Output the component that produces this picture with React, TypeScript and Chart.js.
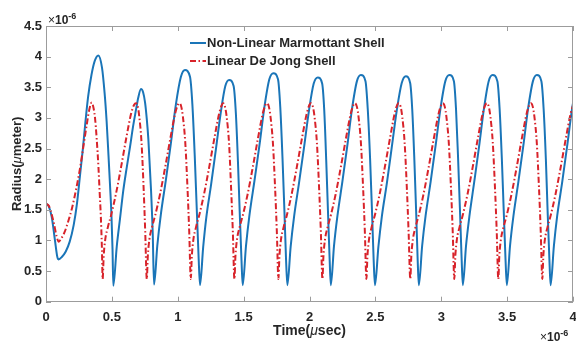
import React, { useEffect, useRef } from "react";
import { Chart, registerables } from "chart.js";

Chart.register(...registerables);

// Time axis in microseconds (x 1e-6 s), radius in micrometres (x 1e-6 m)
const blueTime = [
  0, 0.02, 0.043, 0.068, 0.085, 0.094, 0.12, 0.15, 0.18, 0.21, 0.235, 0.26, 0.28, 0.3, 0.32, 0.345, 0.37, 0.397,
  0.425, 0.445, 0.46, 0.474, 0.486, 0.497, 0.505, 0.511,
  0.537, 0.562, 0.587, 0.612, 0.638, 0.66, 0.683, 0.7, 0.721, 0.737, 0.752, 0.765, 0.777, 0.797, 0.81, 0.82,
  0.845, 0.872, 0.91, 0.948, 0.986, 1.024, 1.055, 1.093, 1.111, 1.129, 1.144, 1.159, 1.169,
  1.193, 1.217, 1.253, 1.289, 1.326, 1.361, 1.39, 1.424, 1.441, 1.457, 1.47, 1.484, 1.493,
  1.518, 1.544, 1.582, 1.62, 1.658, 1.695, 1.726, 1.761, 1.778, 1.795, 1.809, 1.822, 1.832,
  1.857, 1.883, 1.92, 1.958, 1.996, 2.032, 2.063, 2.096, 2.112, 2.127, 2.14, 2.153, 2.162,
  2.186, 2.212, 2.249, 2.286, 2.323, 2.36, 2.39, 2.425, 2.442, 2.46, 2.474, 2.487, 2.497,
  2.523, 2.549, 2.587, 2.625, 2.663, 2.7, 2.731, 2.764, 2.78, 2.796, 2.809, 2.821, 2.83,
  2.855, 2.881, 2.919, 2.956, 2.994, 3.031, 3.062, 3.096, 3.112, 3.128, 3.142, 3.155, 3.164,
  3.188, 3.214, 3.25, 3.287, 3.324, 3.36, 3.39, 3.426, 3.443, 3.46, 3.474, 3.488, 3.498,
  3.522, 3.548, 3.585, 3.622, 3.659, 3.696, 3.726, 3.76, 3.777, 3.794, 3.807, 3.821, 3.83,
  3.855, 3.88, 3.918, 3.955, 3.993, 4.0,
];
const blueRadius = [
  1.6, 1.56, 1.39, 1.0, 0.74, 0.69, 0.73, 0.82, 0.98, 1.25, 1.6, 2.1, 2.5, 2.95, 3.35, 3.7, 3.93, 4.02,
  3.82, 3.4, 2.95, 2.4, 1.9, 1.4, 0.85, 0.26,
  0.9, 1.36, 1.82, 2.18, 2.53, 2.85, 3.13, 3.33, 3.47, 3.42, 3.25, 2.98, 2.65, 1.83, 1.12, 0.28,
  0.92, 1.43, 1.99, 2.59, 3.22, 3.67, 3.78, 3.67, 3.22, 2.38, 1.53, 0.69, 0.27,
  0.89, 1.38, 1.91, 2.48, 3.08, 3.52, 3.62, 3.52, 3.08, 2.28, 1.48, 0.67, 0.27,
  0.91, 1.41, 1.97, 2.55, 3.18, 3.63, 3.73, 3.63, 3.18, 2.35, 1.52, 0.69, 0.27,
  0.9, 1.39, 1.93, 2.51, 3.12, 3.56, 3.66, 3.56, 3.12, 2.3, 1.49, 0.68, 0.27,
  0.91, 1.4, 1.95, 2.53, 3.15, 3.6, 3.7, 3.6, 3.15, 2.33, 1.5, 0.68, 0.27,
  0.9, 1.39, 1.93, 2.53, 3.13, 3.57, 3.68, 3.57, 3.13, 2.31, 1.5, 0.68, 0.27,
  0.91, 1.4, 1.95, 2.53, 3.15, 3.6, 3.7, 3.6, 3.15, 2.33, 1.5, 0.68, 0.27,
  0.91, 1.4, 1.95, 2.53, 3.15, 3.6, 3.7, 3.6, 3.15, 2.33, 1.5, 0.68, 0.27,
  0.91, 1.4, 1.95, 2.53, 3.15, 3.6, 3.7, 3.6, 3.15, 2.33, 1.5, 0.68, 0.27,
  0.91, 1.4, 1.95, 2.53, 3.15, 3.24,
];

const redTime = [
  0, 0.02, 0.04, 0.06, 0.08, 0.097, 0.115, 0.14, 0.17, 0.2, 0.23, 0.26, 0.285, 0.31, 0.33, 0.347,
  0.362, 0.372, 0.385, 0.398, 0.408, 0.416, 0.424, 0.43,
  0.438, 0.45, 0.47, 0.495, 0.53, 0.57, 0.61, 0.646, 0.668, 0.683, 0.697, 0.708, 0.725, 0.741, 0.753, 0.765,
  0.773, 0.785, 0.805, 0.83, 0.865, 0.905, 0.945, 0.98, 1.0, 1.012, 1.027, 1.039, 1.057, 1.074, 1.087, 1.099,
  1.107, 1.119, 1.139, 1.164, 1.199, 1.239, 1.279, 1.314, 1.334, 1.345, 1.359, 1.371, 1.389, 1.405, 1.418, 1.43,
  1.438, 1.45, 1.47, 1.495, 1.53, 1.57, 1.61, 1.645, 1.665, 1.677, 1.692, 1.704, 1.722, 1.739, 1.752, 1.764,
  1.772, 1.784, 1.804, 1.829, 1.864, 1.904, 1.944, 1.979, 1.999, 2.011, 2.026, 2.038, 2.056, 2.073, 2.086, 2.098,
  2.106, 2.118, 2.138, 2.163, 2.198, 2.238, 2.278, 2.313, 2.333, 2.345, 2.36, 2.372, 2.39, 2.407, 2.42, 2.432,
  2.44, 2.452, 2.472, 2.497, 2.532, 2.572, 2.612, 2.646, 2.665, 2.677, 2.692, 2.704, 2.722, 2.739, 2.752, 2.765,
  2.773, 2.785, 2.805, 2.83, 2.865, 2.905, 2.945, 2.98, 3.0, 3.012, 3.027, 3.039, 3.057, 3.074, 3.087, 3.099,
  3.107, 3.119, 3.139, 3.164, 3.199, 3.239, 3.279, 3.314, 3.334, 3.346, 3.361, 3.373, 3.391, 3.408, 3.421, 3.433,
  3.441, 3.453, 3.473, 3.498, 3.533, 3.573, 3.613, 3.648, 3.668, 3.68, 3.695, 3.707, 3.725, 3.742, 3.755, 3.767,
  3.775, 3.787, 3.807, 3.832, 3.867, 3.907, 3.947, 3.982, 4.0,
];
const redRadius = [
  1.6, 1.57, 1.45, 1.28, 1.07, 0.98, 1.03, 1.13, 1.32, 1.55, 1.85, 2.2, 2.55, 2.9, 3.15, 3.25,
  3.15, 3.0, 2.65, 2.2, 1.75, 1.4, 0.9, 0.37,
  0.75, 1.02, 1.22, 1.42, 1.75, 2.2, 2.68, 3.07, 3.21, 3.24, 3.18, 3.02, 2.6, 1.85, 1.15, 0.37,
  0.75, 1.02, 1.22, 1.42, 1.75, 2.2, 2.68, 3.07, 3.21, 3.24, 3.18, 3.02, 2.6, 1.85, 1.15, 0.37,
  0.75, 1.02, 1.22, 1.42, 1.75, 2.2, 2.68, 3.07, 3.21, 3.24, 3.18, 3.02, 2.6, 1.85, 1.15, 0.37,
  0.75, 1.02, 1.22, 1.42, 1.75, 2.2, 2.68, 3.07, 3.21, 3.24, 3.18, 3.02, 2.6, 1.85, 1.15, 0.37,
  0.75, 1.02, 1.22, 1.42, 1.75, 2.2, 2.68, 3.07, 3.21, 3.24, 3.18, 3.02, 2.6, 1.85, 1.15, 0.37,
  0.75, 1.02, 1.22, 1.42, 1.75, 2.2, 2.68, 3.07, 3.21, 3.24, 3.18, 3.02, 2.6, 1.85, 1.15, 0.37,
  0.75, 1.02, 1.22, 1.42, 1.75, 2.2, 2.68, 3.07, 3.21, 3.24, 3.18, 3.02, 2.6, 1.85, 1.15, 0.37,
  0.75, 1.02, 1.22, 1.42, 1.75, 2.2, 2.68, 3.07, 3.21, 3.24, 3.18, 3.02, 2.6, 1.85, 1.15, 0.37,
  0.75, 1.02, 1.22, 1.42, 1.75, 2.2, 2.68, 3.07, 3.21, 3.24, 3.18, 3.02, 2.6, 1.85, 1.15, 0.37,
  0.75, 1.02, 1.22, 1.42, 1.75, 2.2, 2.68, 3.07, 3.21, 3.24, 3.18, 3.02, 2.6, 1.85, 1.15, 0.37,
  0.75, 1.02, 1.22, 1.42, 1.75, 2.2, 2.68, 3.07, 3.2,
];

const xTicks = [0, 0.5, 1, 1.5, 2, 2.5, 3, 3.5, 4];
const yTicks = [0, 0.5, 1, 1.5, 2, 2.5, 3, 3.5, 4, 4.5];
const seriesNames = ["Non-Linear Marmottant Shell", "Linear De Jong Shell"];

const FONT = "'Liberation Sans', Arial, sans-serif";
const BLUE = "#1a75b8";
const RED = "#d8232a";
const AXIS = "#9c9c9c";
const TEXT = "#262626";
const RED_DASH = [6, 2.5, 1.5, 2.5];

type Run = { text: string; font: string; dy?: number };

function drawRuns(ctx: CanvasRenderingContext2D, runs: Run[], x: number, y: number, align: "left" | "center") {
  let total = 0;
  const widths = runs.map((r) => {
    ctx.font = r.font;
    const w = ctx.measureText(r.text).width;
    total += w;
    return w;
  });
  let cx = align === "center" ? x - total / 2 : x;
  runs.forEach((r, i) => {
    ctx.font = r.font;
    ctx.fillText(r.text, cx, y + (r.dy || 0));
    cx += widths[i];
  });
}

const framePlugin = {
  id: "frame",
  afterDatasetsDraw(chart: any) {
    const { ctx, chartArea: a, scales } = chart;
    ctx.save();
    ctx.strokeStyle = AXIS;
    ctx.lineWidth = 1;
    ctx.setLineDash([]);
    ctx.strokeRect(Math.round(a.left) + 0.5, Math.round(a.top) + 0.5, Math.round(a.right - a.left) - 1, Math.round(a.bottom - a.top) - 1);

    const tl = 5;
    ctx.beginPath();
    xTicks.forEach((v) => {
      const px = Math.round(scales.x.getPixelForValue(v)) + 0.5;
      ctx.moveTo(px, a.bottom);
      ctx.lineTo(px, a.bottom - tl);
      ctx.moveTo(px, a.top);
      ctx.lineTo(px, a.top + tl);
    });
    yTicks.forEach((v) => {
      const py = Math.round(scales.y.getPixelForValue(v)) + 0.5;
      ctx.moveTo(a.left, py);
      ctx.lineTo(a.left + tl, py);
      ctx.moveTo(a.right, py);
      ctx.lineTo(a.right - tl, py);
    });
    ctx.stroke();

    ctx.fillStyle = TEXT;
    ctx.textBaseline = "alphabetic";
    ctx.textAlign = "left";

    // exponent markers
    drawRuns(ctx, [
      { text: "\u00d7", font: `12px ${FONT}` },
      { text: "10", font: `bold 12px ${FONT}` },
      { text: "-6", font: `bold 9px ${FONT}`, dy: -5 },
    ], 48, 24, "left");
    drawRuns(ctx, [
      { text: "\u00d7", font: `12px ${FONT}` },
      { text: "10", font: `bold 12px ${FONT}` },
      { text: "-6", font: `bold 9px ${FONT}`, dy: -5 },
    ], 540, 341, "left");

    // axis titles
    drawRuns(ctx, [
      { text: "Time(", font: `bold 14px ${FONT}` },
      { text: "\u03bc", font: `italic 14px ${FONT}` },
      { text: "sec)", font: `bold 14px ${FONT}` },
    ], (a.left + a.right) / 2, 335, "center");

    ctx.save();
    ctx.translate(21, (a.top + a.bottom) / 2);
    ctx.rotate(-Math.PI / 2);
    drawRuns(ctx, [
      { text: "Radius(", font: `bold 13px ${FONT}` },
      { text: "\u03bc", font: `italic 13px ${FONT}` },
      { text: "meter)", font: `bold 13px ${FONT}` },
    ], 0, 0, "center");
    ctx.restore();

    // legend
    const rows = [
      { y: 43, color: BLUE, dash: [] as number[], label: seriesNames[0] },
      { y: 61, color: RED, dash: RED_DASH, label: seriesNames[1] },
    ];
    rows.forEach((r) => {
      ctx.strokeStyle = r.color;
      ctx.lineWidth = 2;
      ctx.setLineDash(r.dash);
      ctx.beginPath();
      ctx.moveTo(190, r.y);
      ctx.lineTo(206, r.y);
      ctx.stroke();
      ctx.setLineDash([]);
      ctx.fillStyle = TEXT;
      ctx.font = `bold 13px ${FONT}`;
      ctx.textBaseline = "middle";
      ctx.fillText(r.label, 207, r.y);
    });
    ctx.restore();
  },
};

export default function App() {
  const ref = useRef<HTMLCanvasElement>(null);

  useEffect(() => {
    const canvas = ref.current;
    if (!canvas) return;
    const tickFont = { family: FONT, size: 13, weight: "bold" as const };
    const chart = new Chart(canvas, {
      type: "line",
      data: {
        datasets: [
          {
            label: seriesNames[0],
            data: blueTime.map((t, i) => ({ x: t, y: blueRadius[i] })),
            borderColor: BLUE,
            backgroundColor: BLUE,
            borderWidth: 2,
            pointRadius: 0,
            cubicInterpolationMode: "monotone",
            fill: false,
            order: 2,
          },
          {
            label: seriesNames[1],
            data: redTime.map((t, i) => ({ x: t, y: redRadius[i] })),
            borderColor: RED,
            backgroundColor: RED,
            borderWidth: 2,
            borderDash: RED_DASH,
            pointRadius: 0,
            cubicInterpolationMode: "monotone",
            fill: false,
            order: 1,
          },
        ],
      },
      options: {
        responsive: false,
        animation: false,
        events: [],
        layout: { padding: { left: 0, top: 26, right: 3, bottom: 0 } },
        plugins: { legend: { display: false }, tooltip: { enabled: false } },
        scales: {
          x: {
            type: "linear",
            min: 0,
            max: 4,
            grid: { display: false, drawTicks: false },
            border: { display: false },
            afterBuildTicks: (s: any) => {
              s.ticks = xTicks.map((v) => ({ value: v }));
            },
            afterFit: (s: any) => {
              s.height = 41.3;
              s.paddingLeft = 0;
              s.paddingRight = 0;
            },
            ticks: {
              font: tickFont,
              color: TEXT,
              padding: 8,
              maxRotation: 0,
              autoSkip: false,
              callback: (v: any) => String(v),
            },
          },
          y: {
            type: "linear",
            min: 0,
            max: 4.5,
            grid: { display: false, drawTicks: false },
            border: { display: false },
            afterBuildTicks: (s: any) => {
              s.ticks = yTicks.map((v) => ({ value: v }));
            },
            afterFit: (s: any) => {
              s.width = 46;
              s.paddingTop = 0;
              s.paddingBottom = 0;
            },
            ticks: {
              font: tickFont,
              color: TEXT,
              padding: 4,
              autoSkip: false,
              callback: (v: any) => String(v),
            },
          },
        },
      },
      plugins: [framePlugin],
    });
    return () => chart.destroy();
  }, []);

  return (
    <div style={{ position: "fixed", left: 0, top: 0, width: 576, height: 343, background: "#fff" }}>
      <canvas ref={ref} width={576} height={343} style={{ display: "block" }} />
    </div>
  );
}
